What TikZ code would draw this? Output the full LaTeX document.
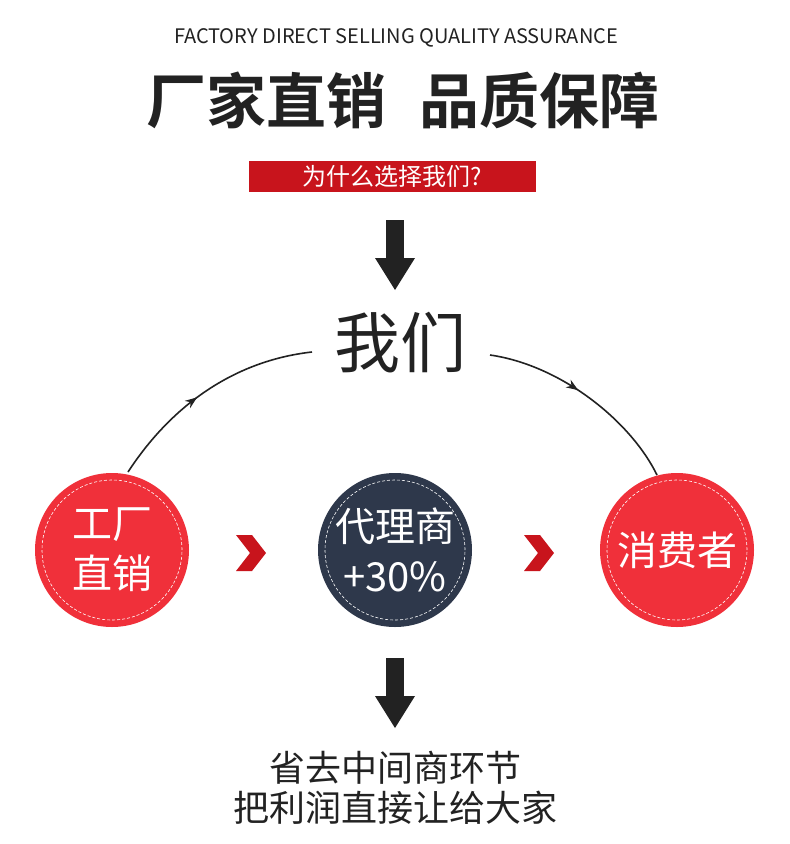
\documentclass[tikz,border=0pt]{standalone}
\usepackage{fontspec}
\setmainfont{Noto Sans CJK SC}
\newfontfamily\cjkbold[BoldFont={* Bold}]{Noto Sans CJK SC}
\usetikzlibrary{arrows.meta,decorations.markings}
\definecolor{redC}{HTML}{F0303A}
\definecolor{navyC}{HTML}{2E384B}
\definecolor{darkred}{HTML}{C8141C}
\definecolor{txtC}{HTML}{222222}
\tikzset{
  badge/.style={circle,minimum size=154pt,inner sep=0pt,text=white,
    font=\fontsize{40}{50}\selectfont,align=center},
  stitch/.style={draw=white,dashed,dash pattern=on 3pt off 2pt,line width=0.6pt},
  curveArr/.style={line width=1.6pt,txtC,decoration={markings,
    mark=at position 0.45 with {\arrow{Stealth[length=12pt,width=9pt]}}},postaction={decorate}},
  bigArr/.style={fill=txtC}
}
\newcommand{\downArrow}[2]{
  \fill[txtC] (#1-9,#2) rectangle (#1+9,#2+38);
  \fill[txtC] (#1-20,#2+38) -- (#1+20,#2+38) -- (#1,#2+70) -- cycle
}
\newcommand{\chevron}[2]{
  \fill[darkred] (#1-14,#2-18) -- (#1+2,#2-18) -- (#1+16,#2) -- (#1+2,#2+18)
    -- (#1-14,#2+18) -- (#1,#2) -- cycle
}
\begin{document}
\begin{tikzpicture}[x=1pt,y=-1pt]
  \useasboundingbox[fill=white] (0,0) rectangle (790,844);

  \node[txtC,font=\fontsize{20}{22}\selectfont] (en) at (396,38) {FACTORY DIRECT SELLING QUALITY ASSURANCE};
  \node[txtC,font=\cjkbold\bfseries\fontsize{60}{64}\selectfont] (title) at (403,100) {厂家直销\hspace{34pt}品质保障};
  \node[fill=darkred,minimum width=287pt,minimum height=31pt,inner sep=0pt,text=white,
    font=\fontsize{24}{26}\selectfont] (why) at (392,176) {为什么选择我们?};

  \downArrow{395}{220};

  \node[txtC,font=\fontsize{66}{70}\selectfont] (us) at (400,343) {我们};

  \node[badge,fill=redC] (factory) at (112,550) {工厂\\直销};
  \node[badge,fill=navyC] (agent) at (395,550) {代理商\\+30\%};
  \node[badge,fill=redC] (buyer) at (677,550) {消费者};
  \foreach \n in {factory,agent,buyer}
    \draw[stitch] (\n) circle (70pt);

  \chevron{250}{553};
  \chevron{538}{553};

  \coordinate (l0) at (128,472);
  \coordinate (l1) at (312,352);
  \coordinate (r0) at (490,355);
  \coordinate (r1) at (657,475);
  \draw[curveArr] (l0) .. controls (175,400) and (240,360) .. (l1);
  \draw[curveArr] (r0) .. controls (560,365) and (630,420) .. (r1);

  \downArrow{395}{658};

  \node[txtC,font=\fontsize{36}{40}\selectfont] (line1) at (395,768) {省去中间商环节};
  \node[txtC,font=\fontsize{36}{40}\selectfont] (line2) at (395,808) {把利润直接让给大家};
\end{tikzpicture}
\end{document}
